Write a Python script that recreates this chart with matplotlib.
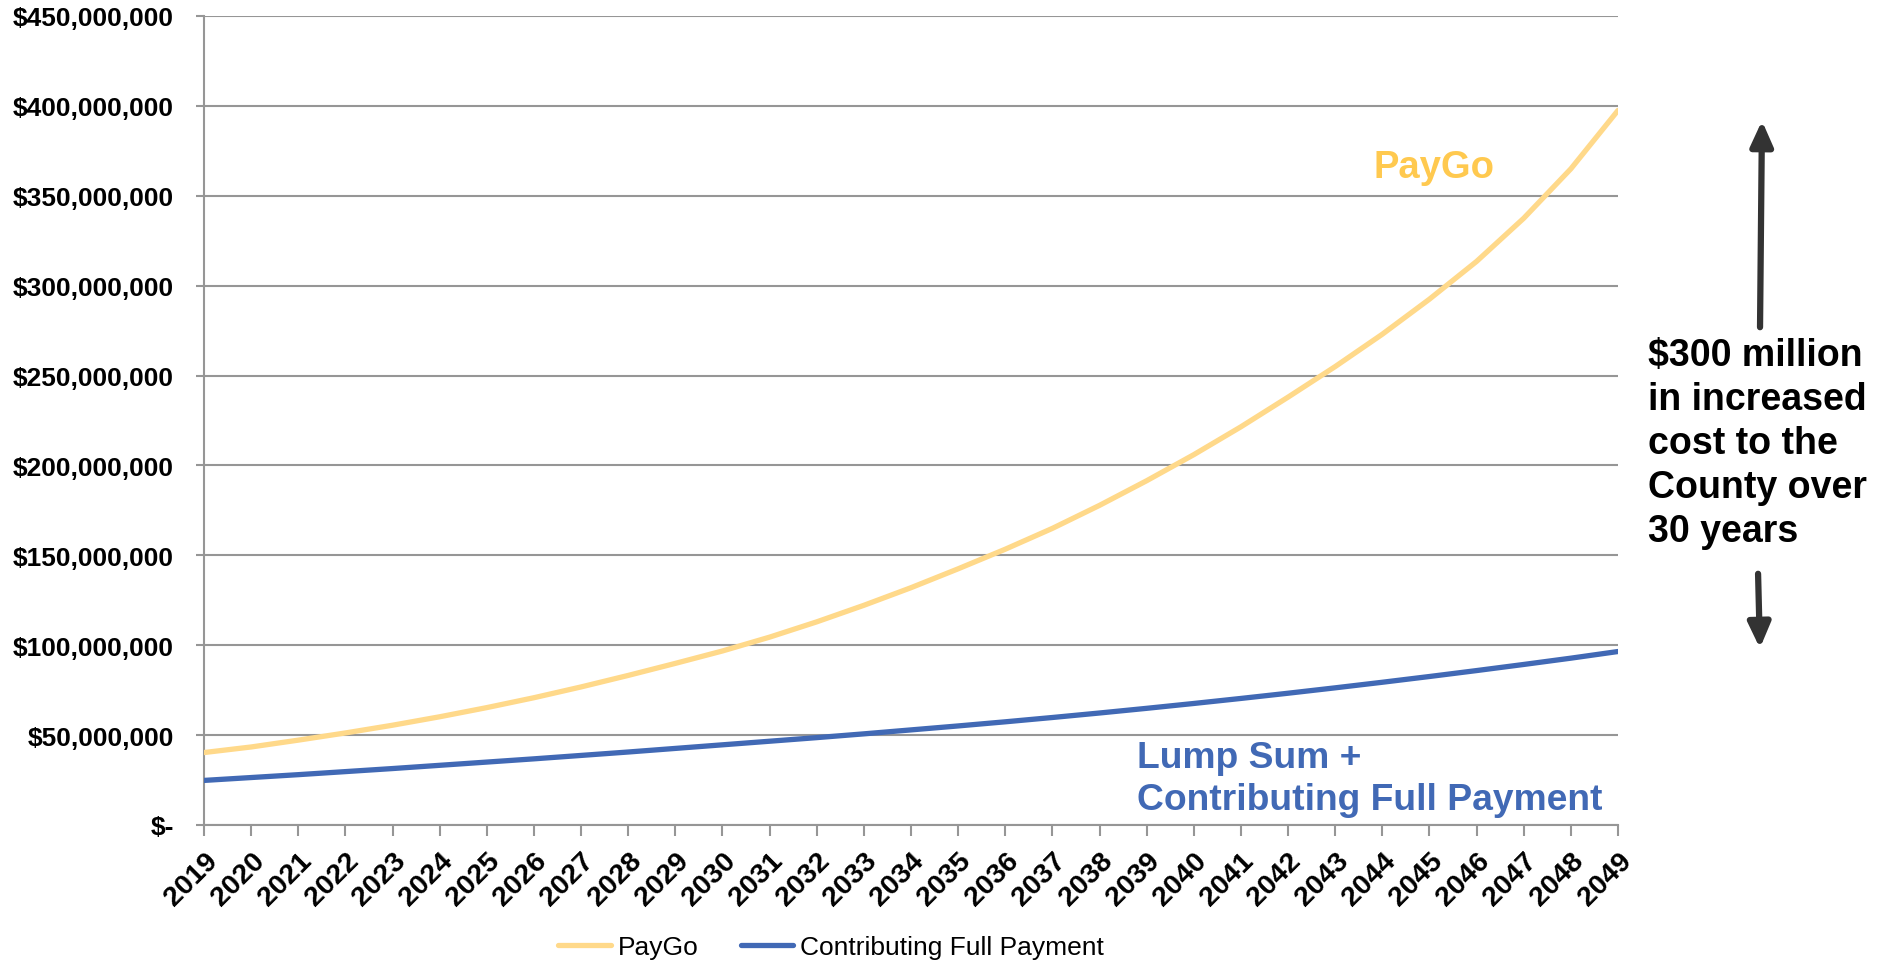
import matplotlib
matplotlib.use("Agg")
import matplotlib.pyplot as plt
from matplotlib.ticker import FuncFormatter, MultipleLocator
from matplotlib.patches import FancyArrowPatch

plt.rcParams['font.family'] = ['Liberation Sans', 'DejaVu Sans']

years = list(range(2019, 2050))
paygo_m = [40.3, 43.4, 47.2, 51.2, 55.5, 60.2, 65.3, 70.8, 76.8, 83.2, 89.9,
           96.8, 104.5, 113.0, 122.2, 132.0, 142.5, 153.4, 165.0, 177.8, 191.5,
           206.0, 221.5, 238.0, 255.0, 273.0, 292.5, 313.5, 337.5, 365.0, 397.5]
full_m = [24.8, 26.4, 28.0, 29.7, 31.4, 33.2, 35.0, 36.8, 38.7, 40.6, 42.6,
          44.6, 46.6, 48.6, 50.7, 52.9, 55.1, 57.4, 59.8, 62.3, 64.9,
          67.6, 70.4, 73.3, 76.3, 79.4, 82.6, 85.9, 89.3, 92.8, 96.5]
paygo = [v * 1e6 for v in paygo_m]
full = [v * 1e6 for v in full_m]

series_names = ["PayGo", "Contributing Full Payment"]
label_paygo = "PayGo"
label_full = "Lump Sum +\nContributing Full Payment"
label_gap = "$300 million\nin increased\ncost to the\nCounty over\n30 years"

c_paygo = '#FFD98A'
c_paygo_txt = '#FFC94F'
c_full = '#4169B5'
grid_c = '#969696'

fig = plt.figure(figsize=(18.81, 9.62), dpi=100)
ax = fig.add_axes([204/1881, 1 - 826/962, (1618-204)/1881, (826-17)/962])

ax.plot(years, paygo, color=c_paygo, lw=3.8, label=series_names[0], solid_capstyle='round', zorder=3)
ax.plot(years, full, color=c_full, lw=3.8, label=series_names[1], solid_capstyle='round', zorder=3)

ax.set_xlim(2019, 2049)
ax.set_ylim(0, 450e6)
ax.yaxis.set_major_locator(MultipleLocator(50e6))
ax.set_xticks(years)
ax.set_xticklabels([str(y) for y in years], rotation=45, ha='right', va='top',
                   rotation_mode='anchor', fontsize=20.5, fontweight='bold')

def fmt(v, pos):
    if v == 0:
        return '$-'
    return '${:,.0f}'.format(v)
ax.yaxis.set_major_formatter(FuncFormatter(fmt))
for lab in ax.get_yticklabels():
    lab.set_fontweight('bold')
    lab.set_fontsize(19)

ax.grid(axis='y', color=grid_c, lw=1.5, zorder=0)
ax.set_axisbelow(True)
for s in ['top', 'right']:
    ax.spines[s].set_visible(False)
for s in ['left', 'bottom']:
    ax.spines[s].set_color(grid_c)
    ax.spines[s].set_linewidth(1.5)
ax.tick_params(axis='x', length=8, width=1.5, color=grid_c, pad=8)
ax.tick_params(axis='y', length=6, width=1.5, color=grid_c, pad=15.5)

ax.text(2045.1, 366e6, label_paygo, color=c_paygo_txt, fontsize=27.5, fontweight='bold',
        ha='center', va='center')
ax.text(2038.8, 25.7e6, label_full, color=c_full, fontsize=26.8, fontweight='bold',
        ha='left', va='center', linespacing=1.27)

fig.text(1648/1881, 1 - 444/962, label_gap, color='black', fontsize=27, fontweight='bold',
         ha='left', va='center', linespacing=1.29)

arrow_c = '#333333'
fig.add_artist(FancyArrowPatch(
    (1760/1881, 1 - 331/962), (1762/1881, 1 - 119/962), transform=fig.transFigure,
    arrowstyle='-|>,head_length=10,head_width=4.5', color=arrow_c, lw=4.5, mutation_scale=1.5,
    capstyle='round'))
fig.add_artist(FancyArrowPatch(
    (1758/1881, 1 - 572/962), (1760/1881, 1 - 652/962), transform=fig.transFigure,
    arrowstyle='-|>,head_length=10,head_width=4.5', color=arrow_c, lw=4.5, mutation_scale=1.5,
    capstyle='round'))

leg = fig.legend(loc='center', bbox_to_anchor=(831/1881, 1 - 948/962), ncol=2,
                 frameon=False, fontsize=19, handlelength=2.0, handletextpad=0.25,
                 columnspacing=1.6)

fig.savefig('out.png', dpi=100)
